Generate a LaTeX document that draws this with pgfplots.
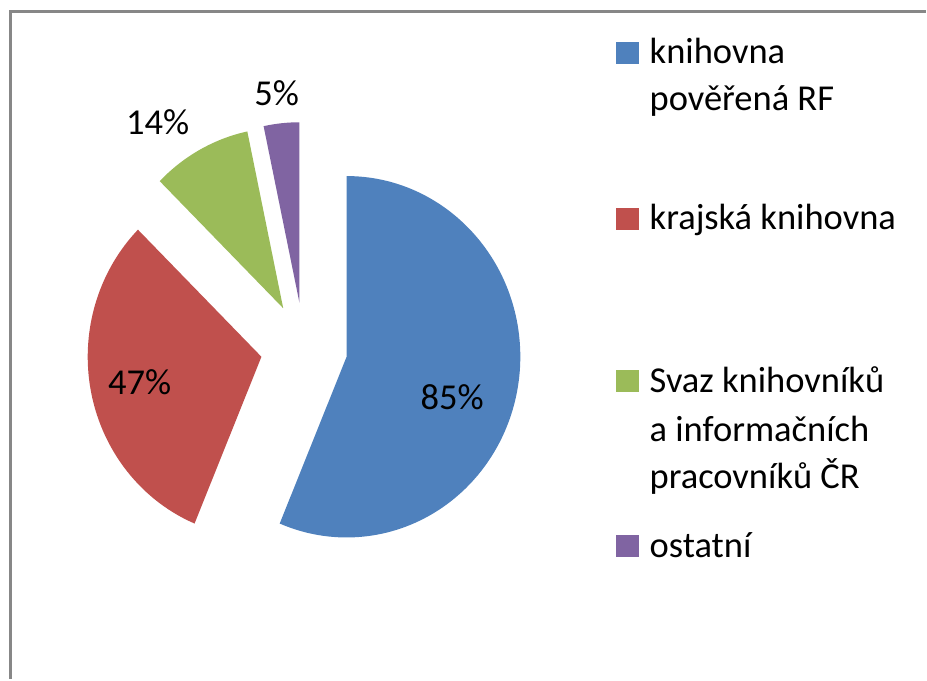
\documentclass[border=0pt]{standalone}
\usepackage{pgfplots}
\pgfplotsset{compat=1.18}
\usepackage{pgfplotstable}
\usepackage{fontspec}
\setmainfont{Carlito}
\definecolor{pie0}{HTML}{4F81BD}
\definecolor{pie1}{HTML}{C0504D}
\definecolor{pie2}{HTML}{9BBB59}
\definecolor{pie3}{HTML}{8064A2}
\definecolor{framegray}{HTML}{878787}

% share of each answer (percent of respondents)
\pgfplotstableread{
idx value
0 85
1 47
2 14
3 5
}\piedata

% angles of the slices, clockwise from the top, exploded by a quarter radius
\def\pietotal{0}%
\foreach \i in {0,...,3}{%
  \pgfplotstablegetelem{\i}{value}\of\piedata
  \pgfmathsetmacro\pietmp{\pietotal+\pgfplotsretval}%
  \xdef\pietotal{\pietmp}%
}%
\def\piecur{90}%
\foreach \i in {0,...,3}{%
  \pgfplotstablegetelem{\i}{value}\of\piedata
  \pgfmathsetmacro\piefrac{\pgfplotsretval/\pietotal}%
  \pgfmathsetmacro\pieend{\piecur-360*\piefrac}%
  \pgfmathsetmacro\piemid{(\piecur+\pieend)/2}%
  \pgfmathsetmacro\pieax{304.5+43.5*cos(\piemid)}%
  \pgfmathsetmacro\pieay{331.5+45.25*sin(\piemid)}%
  \expandafter\xdef\csname pieS\i\endcsname{\piecur}%
  \expandafter\xdef\csname pieE\i\endcsname{\pieend}%
  \expandafter\xdef\csname pieX\i\endcsname{\pieax}%
  \expandafter\xdef\csname pieY\i\endcsname{\pieay}%
  \xdef\piecur{\pieend}%
}%

\begin{document}
\begin{tikzpicture}
\begin{axis}[
    scale only axis,
    width=9.27cm, height=6.8cm,
    xmin=0, xmax=927, ymin=0, ymax=680,
    hide axis,
    clip=false,
]
\path (axis cs:0,0) rectangle (axis cs:927,680);
\draw[line width=0.3mm, framegray] (axis cs:11,0) -- (axis cs:11,668) -- (axis cs:927,668);

\pgfplotsinvokeforeach{0,...,3}{
  \fill[pie#1] (axis cs:\csname pieX#1\endcsname,\csname pieY#1\endcsname)
    -- ++(\csname pieS#1\endcsname:1.74cm and 1.81cm)
    arc[start angle=\csname pieS#1\endcsname, end angle=\csname pieE#1\endcsname,
        x radius=1.74cm, y radius=1.81cm] -- cycle;
}

\tikzset{lbl/.style={anchor=base, inner sep=0pt, font=\fontsize{10.4}{13.3}\selectfont}}
\node[lbl] at (axis cs:453,270) {85\%};
\node[lbl] at (axis cs:140,285) {47\%};
\node[lbl] at (axis cs:158,545) {14\%};
\node[lbl] at (axis cs:277,574) {5\%};

% legend
\tikzset{leg/.style={anchor=base west, inner sep=0pt, font=\fontsize{10.4}{13.3}\selectfont}}
\fill[pie0] (axis cs:617,616) rectangle (axis cs:640,638);
\node[leg] at (axis cs:650,616) {knihovna};
\node[leg] at (axis cs:650,569) {pověřená RF};
\fill[pie1] (axis cs:617,450) rectangle (axis cs:640,472);
\node[leg] at (axis cs:650,450) {krajská knihovna};
\fill[pie2] (axis cs:617,287) rectangle (axis cs:640,309);
\node[leg] at (axis cs:650,287) {Svaz knihovníků};
\node[leg] at (axis cs:650,238) {a informačních};
\node[leg] at (axis cs:650,191) {pracovníků ČR};
\fill[pie3] (axis cs:617,122) rectangle (axis cs:640,144);
\node[leg] at (axis cs:650,122) {ostatní};
\end{axis}
\end{tikzpicture}
\end{document}
